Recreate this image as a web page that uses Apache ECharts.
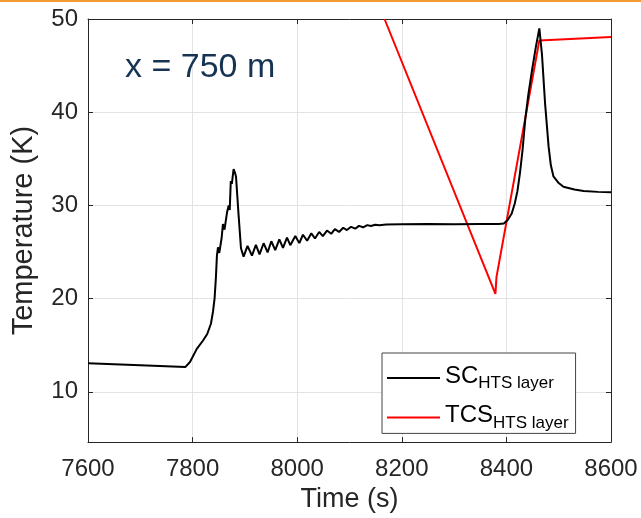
<!DOCTYPE html>
<html><head><meta charset="utf-8">
<script src="https://cdn.jsdelivr.net/npm/echarts@6/dist/echarts.min.js"></script>
<style>html,body{margin:0;padding:0;background:#fff}#c{width:641px;height:518px}</style>
</head><body><div id="c"></div>
<script>
const xTicks = [7600, 7800, 8000, 8200, 8400, 8600];
const yRange = [4.6, 50];

const scTime = [7600,7700,7786,7795,7808,7820,7828,7835,7839,7842,7844.5,7846.5,7848.5,7851,7853,7855.5,7858,7861,7863,7866,7869,7871,7873,7875,7878.4,7881,7883,7885.5,7888,7892.5,7897.5,
  7905,7913.5,7921,7928,7935.8,7943.4,7950.5,7958,7965.8,7972.8,7980.5,7986.8,7996.4,8004,8011,8019,8027,8034,8042,8049,8057,8065,8072,8080,8088,8095,8103,8111,8118,8126,8134,8141,8149,8157,8170,8200,8250,8300,8350,8385,
  8395,8402,8410,8416,8421,8426,8431,8436,8442,8449,8456,8463,8468,8474,8480.7,8485,8490,8500,8509,8530,8547.6,8575,8600];
const scTemp = [13.07,12.85,12.65,13.2,14.6,15.5,16.2,17.3,18.6,20.0,22.2,24.6,25.5,24.9,24.7,26.5,28.0,27.4,27.6,29.3,30.0,29.5,32.6,32.3,33.9,33.5,33.1,31.0,28.9,25.4,24.5,
  25.66,24.6,25.77,24.74,25.94,24.95,26.15,25.2,26.36,25.45,26.54,25.73,26.72,25.95,26.85,26.2,27.0,26.45,27.15,26.7,27.3,26.95,27.45,27.15,27.6,27.35,27.7,27.5,27.8,27.65,27.88,27.78,27.92,27.87,27.95,27.98,28.0,27.98,28.0,28.0,
  28.05,28.4,29.1,30.2,31.5,33.5,36.0,39.2,41.9,44.5,46.9,49.0,46.2,40.9,36.3,34.3,33.1,32.4,32.0,31.7,31.55,31.45,31.4];

const tcsTime = [8167, 8379, 8381, 8463, 8600];
const tcsTemp = [50, 20.5, 22.3, 47.7, 48.07];

const seriesNames = ['SC', 'TCS'];
const subscript = 'HTS layer';
const annotation = 'x = 750 m';

const zip = (a, b) => a.map((v, i) => [v, b[i]]);
const FONT = 'Liberation Sans, Arial, Helvetica, sans-serif';
const AX = '#262626';

const chart = echarts.init(document.getElementById('c'), null, {renderer: 'canvas'});
const baseX = {
  type: 'value', min: xTicks[0], max: xTicks[xTicks.length - 1], interval: 200,
  axisLine: {show: true, lineStyle: {color: AX, width: 1}},
  axisTick: {show: true, inside: true, length: 5, lineStyle: {color: AX}},
  splitLine: {show: false}
};
const baseY = {
  type: 'value', min: yRange[0], max: yRange[1], splitNumber: 5,
  axisLine: {show: true, lineStyle: {color: AX, width: 1}},
  axisTick: {show: true, inside: true, length: 5, lineStyle: {color: AX}},
  splitLine: {show: false}
};
chart.setOption({
  backgroundColor: '#fff',
  animation: false,
  grid: {left: 88, right: 30, top: 19, bottom: 73, containLabel: false},
  xAxis: [
    Object.assign({}, baseX, {
      position: 'bottom',
      axisLabel: {color: AX, fontSize: 24, fontFamily: FONT, margin: 15, formatter: v => String(v)},
      splitLine: {show: true, lineStyle: {color: '#e3e3e3', width: 1}},
      name: 'Time (s)', nameLocation: 'middle', nameGap: 38,
      nameTextStyle: {color: AX, fontSize: 27, fontFamily: FONT}
    }),
    Object.assign({}, baseX, {position: 'top', axisLabel: {show: false}})
  ],
  yAxis: [
    Object.assign({}, baseY, {
      position: 'left',
      axisLabel: {color: AX, fontSize: 24, fontFamily: FONT, margin: 10, showMinLabel: false, formatter: v => String(v)},
      splitLine: {show: true, lineStyle: {color: '#e3e3e3', width: 1}},
      name: 'Temperature (K)', nameLocation: 'middle', nameGap: 50, nameRotate: 90,
      nameTextStyle: {color: AX, fontSize: 29, fontFamily: FONT}
    }),
    Object.assign({}, baseY, {position: 'right', axisLabel: {show: false}})
  ],
  legend: {
    orient: 'vertical', left: 382, top: 353, selectedMode: false,
    backgroundColor: '#fff', borderColor: '#444', borderWidth: 1, borderRadius: 0,
    padding: [2, 7, 2, 5], itemGap: 2.4, itemWidth: 53, itemHeight: 2, icon: 'rect',
    data: seriesNames,
    formatter: name => '{a|' + name + '}{b|' + subscript + '}',
    textStyle: {
      color: '#000', fontFamily: FONT,
      rich: {
        a: {fontSize: 24, lineHeight: 28, verticalAlign: 'top', fontFamily: FONT, color: '#000'},
        b: {fontSize: 17, lineHeight: 16, verticalAlign: 'bottom', padding: [20, 0, 0, 0], fontFamily: FONT, color: '#000'}
      }
    }
  },
  graphic: [
    {type: 'rect', left: 0, top: 0, shape: {width: 641, height: 2}, style: {fill: '#f29b30'}, silent: true},
    {type: 'text', x: 125, y: 67.5, style: {text: annotation, fontSize: 34, fontFamily: FONT, fill: '#163452', textVerticalAlign: 'middle', verticalAlign: 'middle'}, silent: true, z: 100}
  ],
  series: [
    {name: seriesNames[0], type: 'line', data: zip(scTime, scTemp), showSymbol: false, symbol: 'none', color: '#000', lineStyle: {color: '#000', width: 2}, clip: true, z: 3},
    {name: seriesNames[1], type: 'line', data: zip(tcsTime, tcsTemp), showSymbol: false, symbol: 'none', color: '#ff0000', lineStyle: {color: '#ff0000', width: 2}, clip: true, z: 2}
  ]
});
</script>
</body></html>
